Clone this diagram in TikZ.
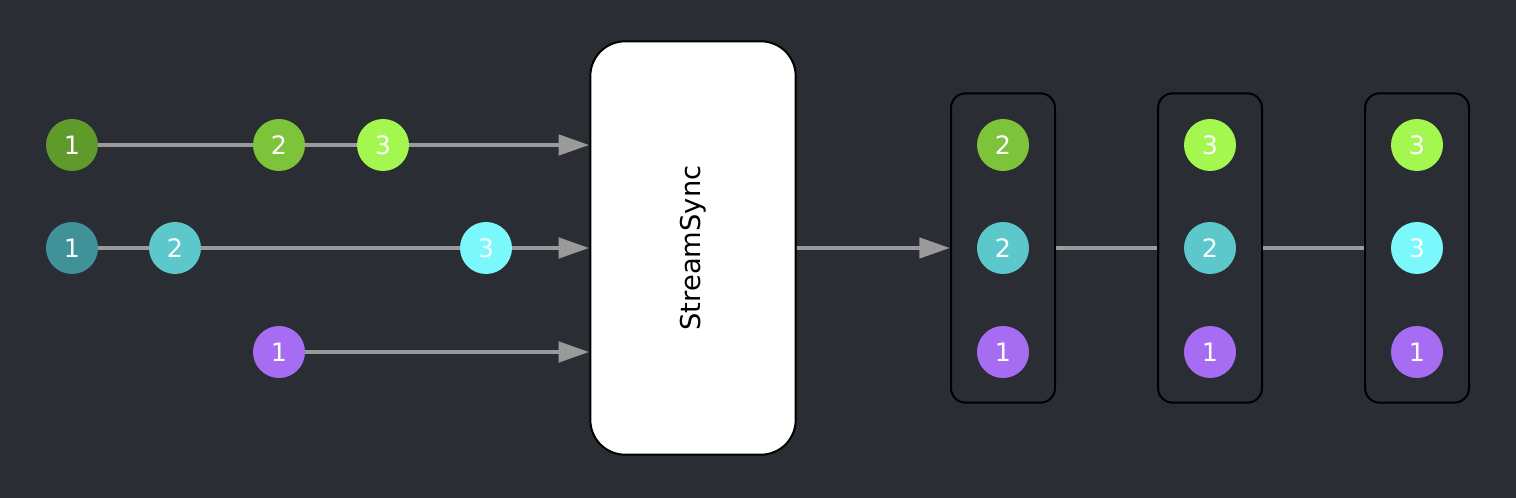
\documentclass[tikz,border=0pt]{standalone}
\usepackage{fontspec}
\setmainfont{DejaVu Sans}
\usetikzlibrary{arrows.meta}
\usetikzlibrary{positioning}
\definecolor{bg}{HTML}{2A2D33}
\definecolor{wire}{HTML}{9A9A9A}
\definecolor{greenA}{HTML}{5F9A2B}
\definecolor{greenB}{HTML}{7EC43B}
\definecolor{greenC}{HTML}{A3F74F}
\definecolor{tealA}{HTML}{3F9297}
\definecolor{tealB}{HTML}{5CC8CB}
\definecolor{tealC}{HTML}{7AF8FC}
\definecolor{violet}{HTML}{A66DF3}

\begin{document}
\begin{tikzpicture}[x=0.75pt, y=-0.75pt,
    ball/.style={circle, fill=#1, minimum size=39pt, inner sep=0pt, text=white, font=\fontsize{19}{22}\selectfont},
    wirearrow/.style={draw=wire, line width=3.4pt, -{Triangle[length=23pt, width=15pt]}},
    wireline/.style={draw=wire, line width=3.4pt},
    syncbox/.style={draw=black, line width=1.5pt, fill=white, rounded corners=26pt, minimum width=154pt, minimum height=310pt, font=\fontsize{20.5}{24}\selectfont},
    slot/.style={draw=black, line width=1.5pt, fill=bg, rounded corners=11pt, minimum width=78pt, minimum height=232pt}]
            % background and margins
            \fill[bg] (0,0) rectangle (1516,498);

            % the synchroniser
            \node[syncbox] (sync) at (693,248) {\rotatebox{90}{StreamSync}};

            % output slots
            \node[slot] (b1) at (1003,248) {};
            \node[slot] (b2) at (1210,248) {};
            \node[slot] (b3) at (1417,248) {};

            % input streams: wires first, balls on top
            \coordinate (g1) at (72,145);
            \coordinate (t1) at (72,248);
            \coordinate (p1) at (279,352);
            \draw[wirearrow] (g1) -- (g1 -| sync.west);
            \draw[wirearrow] (t1) -- (t1 -| sync.west);
            \draw[wirearrow] (p1) -- (p1 -| sync.west);

            \node[ball=greenA] (ga) at (g1) {1};
            \node[ball=greenB] (gb) at (279,145) {2};
            \node[ball=greenC] (gc) at (383,145) {3};
            \node[ball=tealA] (ta) at (t1) {1};
            \node[ball=tealB] (tb) at (175,248) {2};
            \node[ball=tealC] (tc) at (486,248) {3};
            \node[ball=violet] (pa) at (p1) {1};

            % output
            \draw[wirearrow] (sync.east) -- (b1.west);
            \draw[wireline] (b1.east) -- (b2.west);
            \draw[wireline] (b2.east) -- (b3.west);

            \node[ball=greenB] (s1a) at (1003,145) {2};
            \node[ball=tealB] (s1b) at (1003,248) {2};
            \node[ball=violet] (s1c) at (1003,352) {1};
            \node[ball=greenC] (s2a) at (1210,145) {3};
            \node[ball=tealB] (s2b) at (1210,248) {2};
            \node[ball=violet] (s2c) at (1210,352) {1};
            \node[ball=greenC] (s3a) at (1417,145) {3};
            \node[ball=tealC] (s3b) at (1417,248) {3};
            \node[ball=violet] (s3c) at (1417,352) {1};
        \end{tikzpicture}
\end{document}
